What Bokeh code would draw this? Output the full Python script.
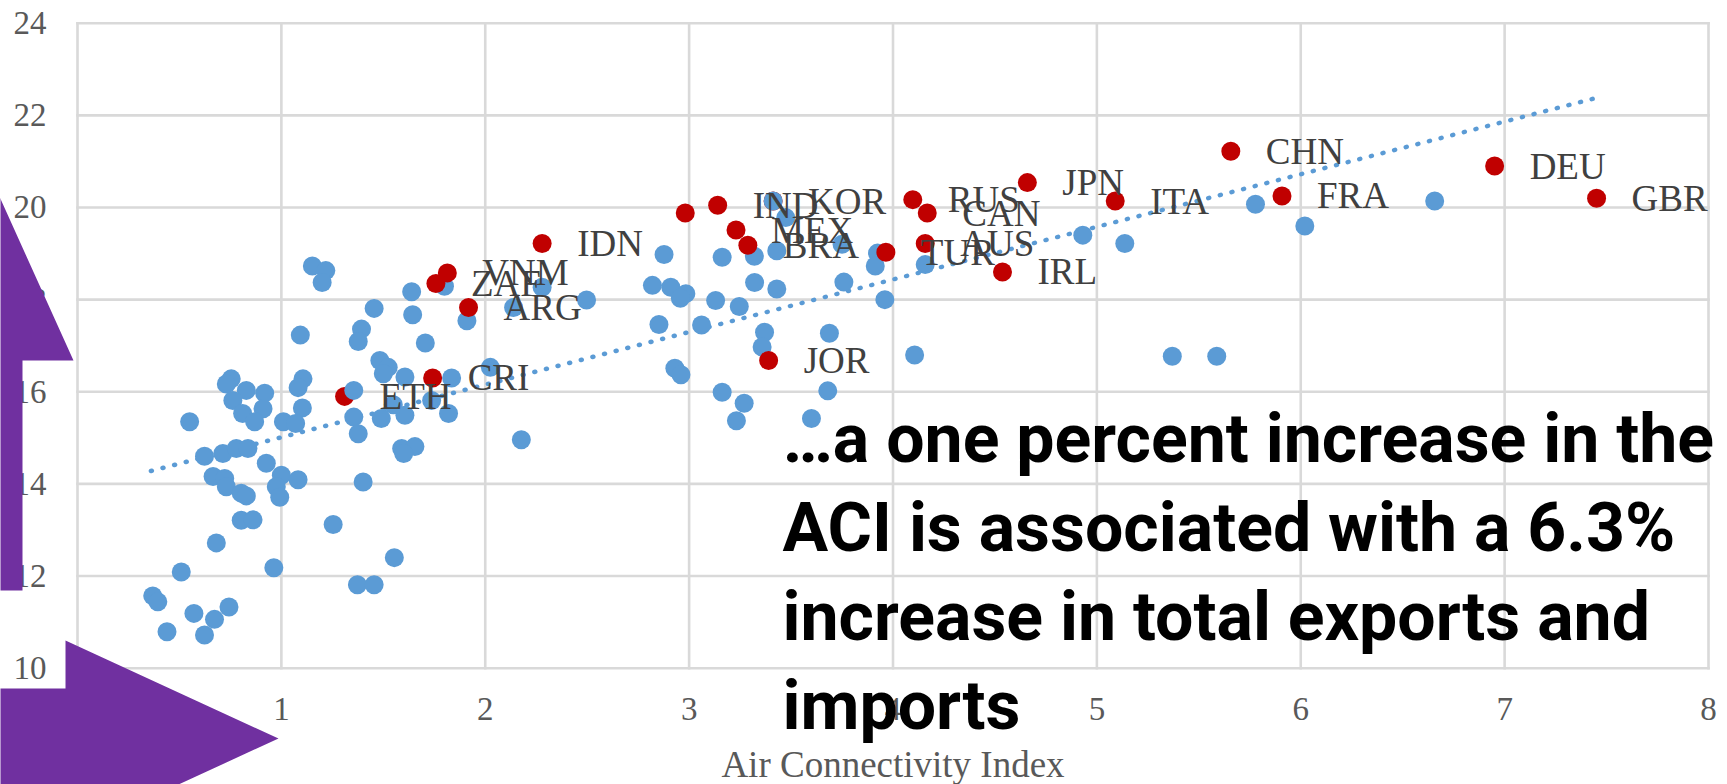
import pandas as pd
from bokeh.plotting import figure
from bokeh.models import (ColumnDataSource, LabelSet, Label, PolyAnnotation,
                          FixedTicker, Range1d)
from bokeh.core.properties import value
from bokeh.embed import file_html
from bokeh.resources import INLINE

# ---------------- data ----------------
other_aci = [1.152, 1.218, 1.20, 1.80, 1.639, 1.91, 1.455, 1.644, 1.393, 1.377,
             1.093, 1.706, 1.483, 1.524, 1.50, 1.606, 1.835, 1.355, 0.754, 0.73,
             0.828, 0.918, 0.762, 0.81, 0.91, 0.869, 1.106, 1.082, 1.103, 0.55,
             1.01, 1.07, 1.355, 1.49, 1.606, 1.737, 1.82, 1.549,
             1.377, 1.59, 1.655, 1.60, 0.623, 0.713, 0.779, 0.836, 0.926, 1.0,
             1.082, 0.975, 0.992, 0.665, 0.722, 0.73, 0.803, 0.828, 1.401, 0.803,
             0.861, 1.254, 0.681, 0.509, 0.963, 1.554, 1.373, 1.455, 0.369, 0.394,
             0.571, 0.672, 0.743, 0.439, 0.623,
             3.412, 3.474, 3.32, 3.43, 2.877, 3.162, 2.82, 2.91, 2.984, 2.957,
             3.13, 3.246, 3.321, 3.43, 2.497, 2.279, 2.139, 2.852, 3.061, 3.37,
             3.358, 2.025, 2.93, 2.96, 3.162, 3.27, 3.232, 2.177, 3.60, 3.68,
             3.75, 3.924, 3.913, 4.158, 3.759, 3.96, 3.688, 4.106, 4.931, 5.137,
             5.37, 5.588, 5.778, 6.02, 6.657]
other_trade = [18.73, 18.63, 18.37, 18.29, 18.17, 17.54, 17.81, 17.67, 17.36, 17.09,
               17.23, 17.06, 16.68, 16.53, 16.39, 16.32, 16.30, 16.03, 16.28, 16.17,
               16.03, 15.97, 15.81, 15.53, 15.63, 15.35, 16.28, 16.09, 15.65, 15.35,
               15.35, 15.31, 15.45, 15.42, 15.49, 15.81, 15.53, 15.72,
               15.09, 14.77, 14.81, 14.66, 14.60, 14.66, 14.77, 14.77, 14.45, 14.19,
               14.09, 13.94, 13.71, 14.16, 14.12, 13.94, 13.80, 13.74, 14.04, 13.21,
               13.22, 13.12, 12.72, 12.09, 12.18, 12.40, 11.81, 11.81, 11.57, 11.44,
               11.19, 11.06, 11.33, 10.79, 10.72,
               20.14, 19.78, 18.94, 19.06, 18.98, 18.92, 18.31, 18.27, 18.13, 18.03,
               17.98, 17.85, 18.37, 18.23, 17.99, 18.27, 17.83, 17.46, 17.45, 17.29,
               16.97, 16.53, 16.51, 16.37, 15.99, 15.75, 15.37, 14.96, 15.42, 16.02,
               19.20, 19.01, 18.73, 18.76, 18.38, 18.00, 17.27, 16.80, 19.40, 19.22,
               16.77, 16.77, 20.07, 19.60, 20.14]

hl_codes = ["IDN", "", "IND", "MEX", "BRA", "KOR", "RUS", "CAN", "AUS", "TUR",
            "IRL", "JPN", "ITA", "CHN", "FRA", "DEU", "GBR", "VNM", "ZAF", "ARG",
            "CRI", "ETH", "JOR"]
hl_aci = [2.279, 2.981, 3.14, 3.23, 3.288, 3.412, 4.097, 4.168, 4.158, 3.965,
          4.537, 4.659, 5.09, 5.657, 5.908, 6.951, 7.451, 1.814, 1.758, 1.918,
          1.742, 1.31, 3.39]
hl_trade = [19.22, 19.88, 20.05, 19.51, 19.18, 20.14, 20.17, 19.88, 19.22, 19.03,
            18.60, 20.54, 20.14, 21.22, 20.25, 20.90, 20.20, 18.58, 18.35, 17.83,
            16.30, 15.90, 16.68]
hl_beneath = ["KOR", "ETH"]   # red markers hidden by blue ones

trend_aci = [0.36, 7.46]
trend_trade = [14.28, 22.39]

x_ticks = [0, 1, 2, 3, 4, 5, 6, 7, 8]
y_ticks = [10, 12, 14, 16, 18, 20, 22, 24]
x_title = "Air Connectivity Index"
note_lines = ["\u2026a one percent increase in the",
              "ACI is associated with a 6.3%",
              "increase in total exports and",
              "imports"]

# ---------------- layout geometry (pixels) ----------------
W, H = 1727, 784
PX_XMIN, PX_XMAX = 77.0, 1708.0      # pixel of first / last x tick
PX_YMAX, PX_YMIN = 22.7, 667.7       # pixel of top / bottom y tick
x0, x1 = x_ticks[0], x_ticks[-1]
y0, y1 = y_ticks[0], y_ticks[-1]
sx = (PX_XMAX - PX_XMIN) / (x1 - x0)
sy = (PX_YMIN - PX_YMAX) / (y1 - y0)
x_range = Range1d(x0 - PX_XMIN / sx, x1 + (W - PX_XMAX) / sx)
y_range = Range1d(y0 - (H - PX_YMIN) / sy, y1 + PX_YMAX / sy)

BLUE = "#5B9BD5"
RED = "#C00000"
GRID = "#D9D9D9"
PURPLE = "#7030A0"
TICK_C = "#595959"

p = figure(width=W, height=H, output_backend="svg", toolbar_location=None,
           x_range=x_range, y_range=y_range,
           min_border_left=0, min_border_right=0, min_border_top=0,
           min_border_bottom=0, background_fill_color="white",
           border_fill_color="white")
p.outline_line_color = None
p.grid.visible = False

# gridlines / plot box as segments at the tick values
p.segment(x0=x_ticks, y0=[y0] * len(x_ticks), x1=x_ticks, y1=[y1] * len(x_ticks),
          line_color=GRID, line_width=2.6, line_cap="square", level="underlay")
p.segment(x0=[x0] * len(y_ticks), y0=y_ticks, x1=[x1] * len(y_ticks), y1=y_ticks,
          line_color=GRID, line_width=2.6, line_cap="square", level="underlay")

# axes drawn inside the frame at fixed data locations
p.xaxis.ticker = FixedTicker(ticks=x_ticks)
p.yaxis.ticker = FixedTicker(ticks=y_ticks)
p.xaxis.fixed_location = y0
p.yaxis.fixed_location = x0
p.xaxis.bounds = (x0, x1)
p.yaxis.bounds = (y0, y1)
p.axis.axis_line_color = None
p.axis.major_tick_line_color = None
p.axis.minor_tick_line_color = None
p.axis.major_tick_out = 0
p.axis.major_tick_in = 0
p.axis.major_label_text_font = "Liberation Serif"
p.axis.major_label_text_font_size = "33px"
p.axis.major_label_text_color = TICK_C
p.yaxis.major_label_standoff = 31
p.xaxis.major_label_standoff = 30
p.xaxis.axis_label = x_title
p.xaxis.axis_label_text_font = "Liberation Serif"
p.xaxis.axis_label_text_font_style = "normal"
p.xaxis.axis_label_text_font_size = "37px"
p.xaxis.axis_label_text_color = TICK_C
p.xaxis.axis_label_standoff = 20

# trend line
p.line(trend_aci, trend_trade, line_color=BLUE, line_width=4.5,
       line_dash="1 11", line_cap="round")

hl = pd.DataFrame({"x": hl_aci, "y": hl_trade, "code": hl_codes})
under_mask = hl["code"].isin(hl_beneath)
src_under = ColumnDataSource(hl[under_mask])
src_over = ColumnDataSource(hl[~under_mask])
src_all = ColumnDataSource(hl)

p.scatter("x", "y", source=src_under, size=19, fill_color=RED, line_color=None)
p.scatter(other_aci, other_trade, size=19, fill_color=BLUE, line_color=None)
p.scatter("x", "y", source=src_over, size=19, fill_color=RED, line_color=None)

labels = LabelSet(x="x", y="y", text="code", source=src_all, x_offset=35,
                  text_baseline="middle", text_align="left",
                  text_font=value("Liberation Serif"), text_font_size="37px",
                  text_color="#404040")
p.add_layout(labels)

# purple arrows (canvas pixel units)
up_arrow = PolyAnnotation(xs=[-2, 73, 22, 22, -2], ys=[194, 360, 360, 590, 590],
                          xs_units="canvas", ys_units="canvas",
                          fill_color=PURPLE, fill_alpha=1.0, line_color=None)
right_arrow = PolyAnnotation(xs=[-2, 65, 65, 278, 65, 65, -2],
                             ys=[688, 688, 640, 738, 836, 788, 788],
                             xs_units="canvas", ys_units="canvas",
                             fill_color=PURPLE, fill_alpha=1.0, line_color=None)
p.add_layout(up_arrow)
p.add_layout(right_arrow)

# large annotation text
note_x = 3.458
note_y = [14.98, 13.05, 11.12, 9.18]
for txt, yy in zip(note_lines, note_y):
    p.add_layout(Label(x=note_x, y=yy, text=txt, text_font="Roboto",
                       text_font_style="bold", text_font_size="68px",
                       text_color="black", text_baseline="alphabetic",
                       text_align="left"))

open("out.html", "w").write(file_html(p, INLINE))
